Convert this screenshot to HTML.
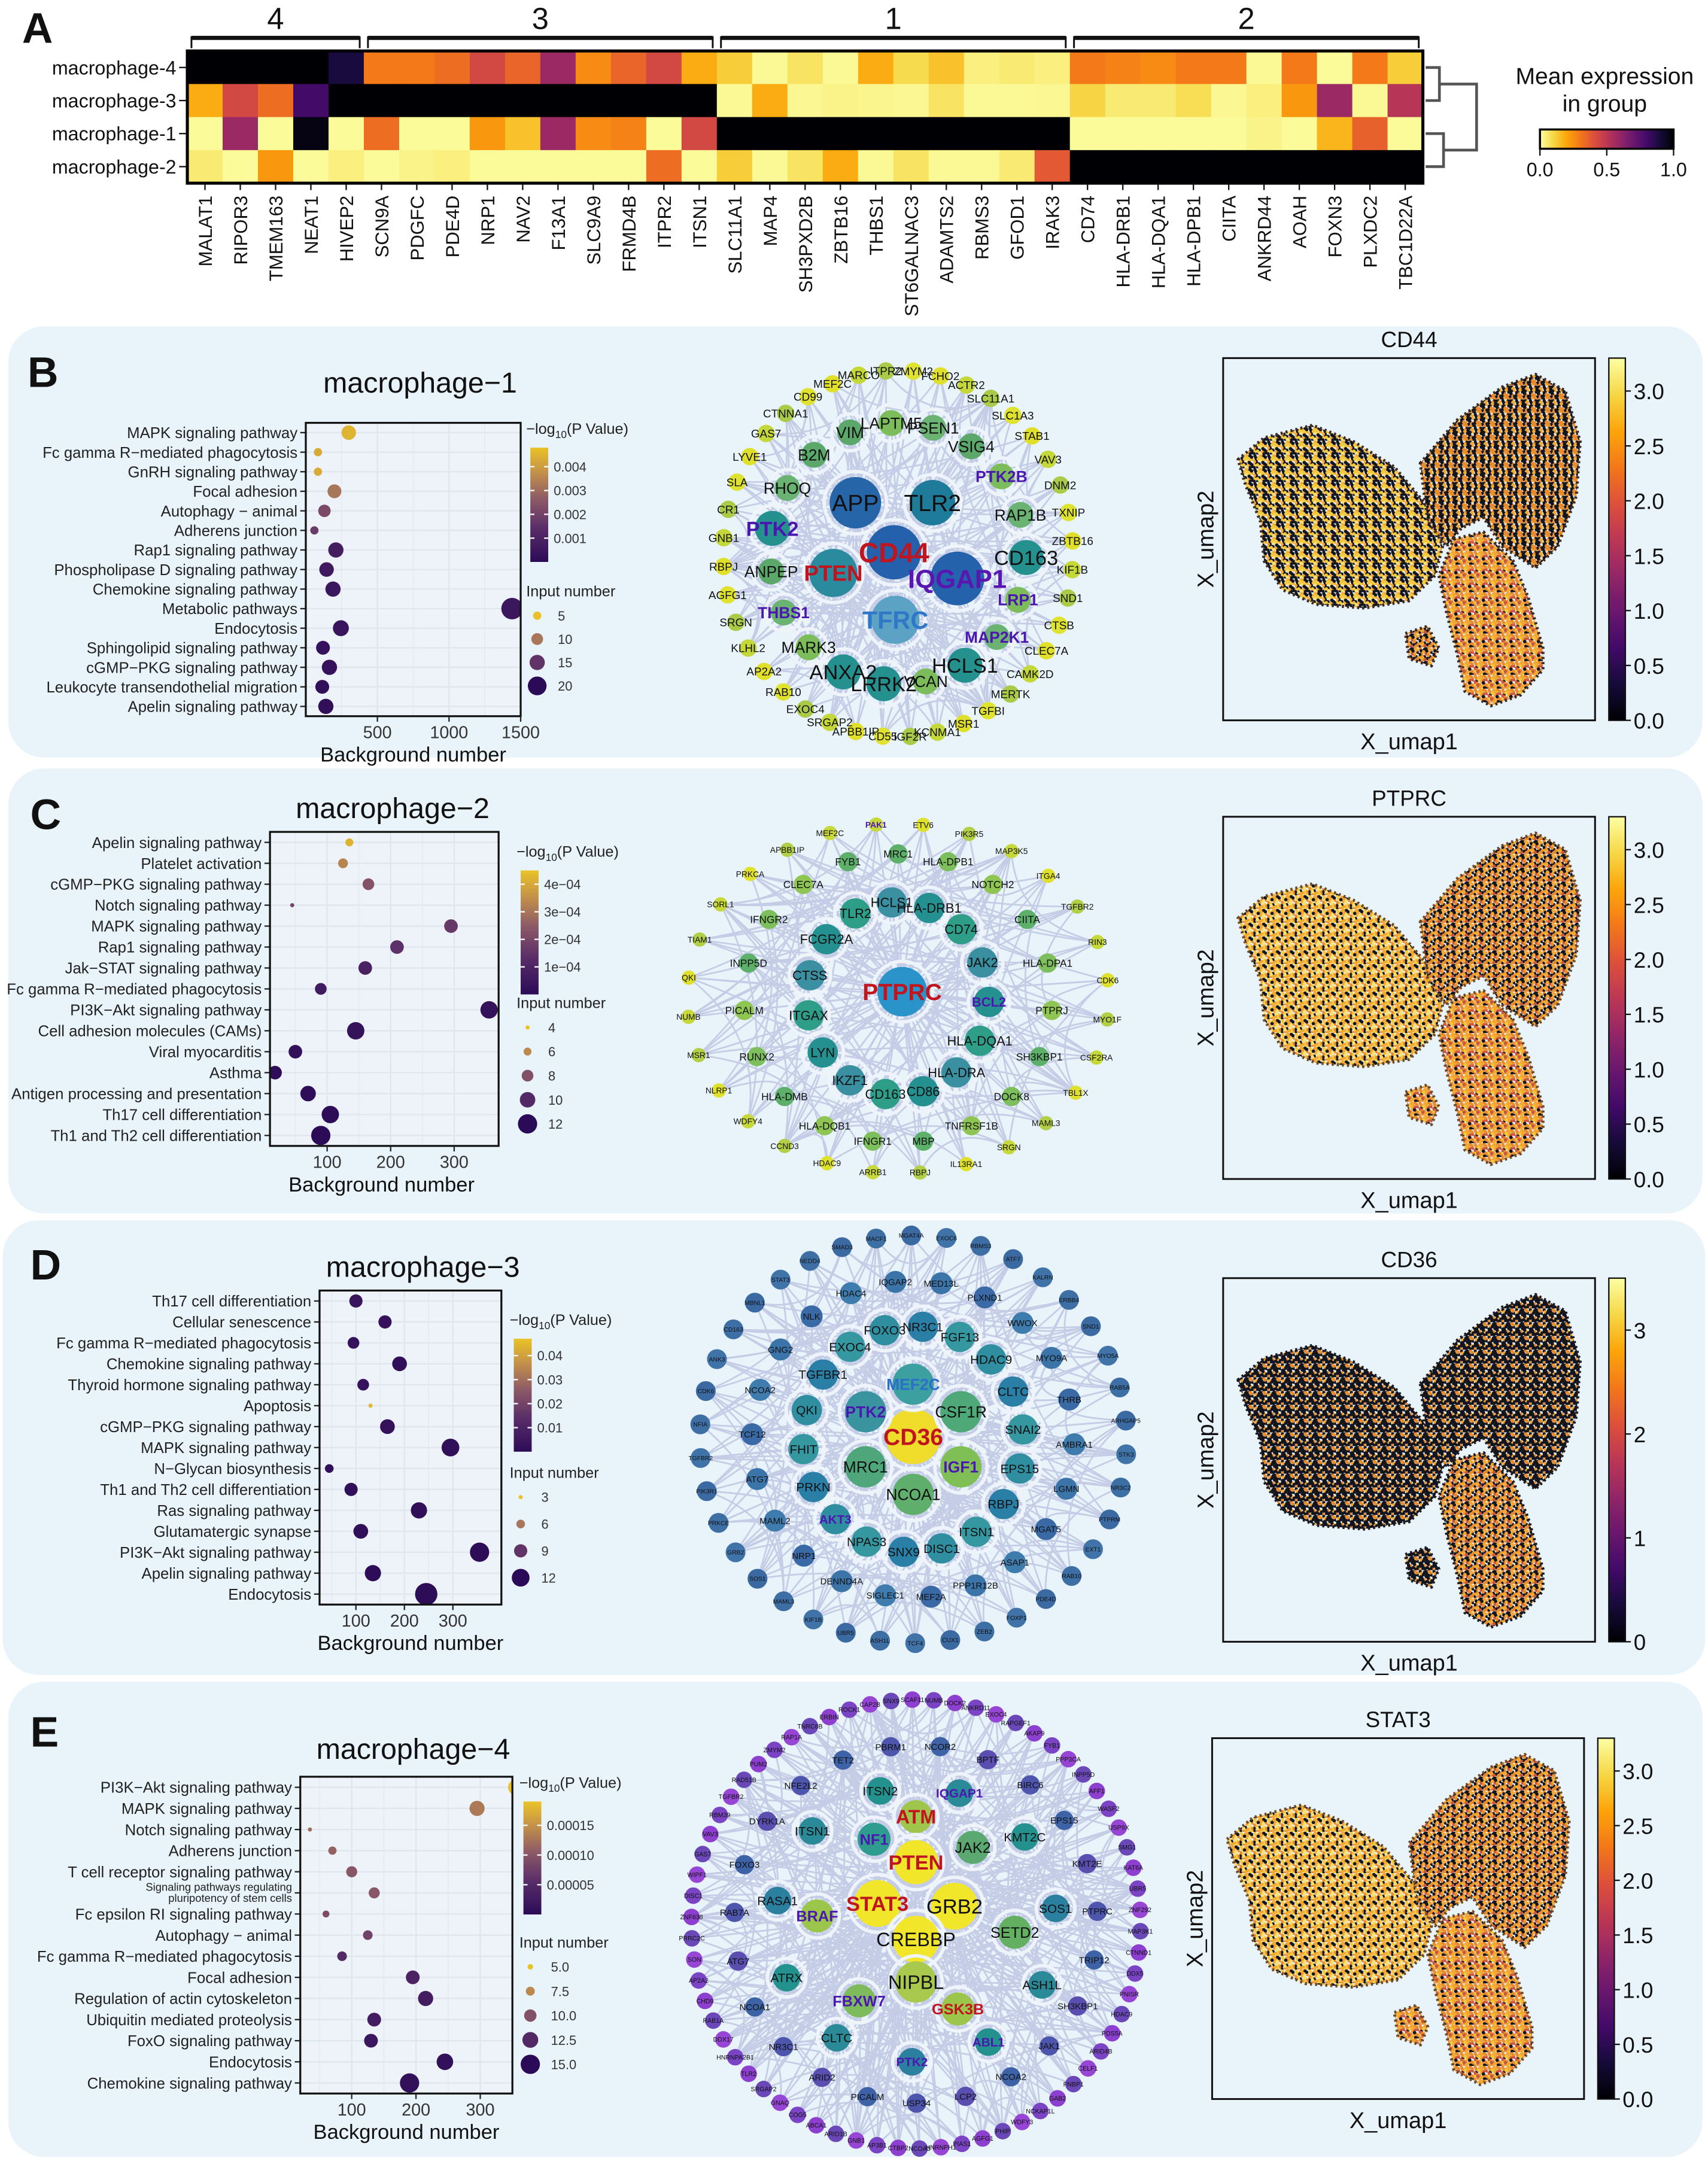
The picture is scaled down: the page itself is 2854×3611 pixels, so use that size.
<!DOCTYPE html>
<html><head><meta charset="utf-8"><style>
html,body{margin:0;padding:0;background:#fff;}
svg{display:block;font-family:"Liberation Sans",Arial,sans-serif;}
</style></head><body>
<svg id="fig" xmlns="http://www.w3.org/2000/svg" width="2854" height="3611" viewBox="0 0 1240 1569" preserveAspectRatio="none">
<defs id="defs"></defs>
<rect x="0" y="0" width="1240" height="1569" fill="#ffffff"/>
</svg>
<script>
// ---------------- DATA ----------------
const hmGenes=['MALAT1','RIPOR3','TMEM163','NEAT1','HIVEP2','SCN9A','PDGFC','PDE4D','NRP1','NAV2','F13A1','SLC9A9','FRMD4B','ITPR2','ITSN1','SLC11A1','MAP4','SH3PXD2B','ZBTB16','THBS1','ST6GALNAC3','ADAMTS2','RBMS3','GFOD1','IRAK3','CD74','HLA-DRB1','HLA-DQA1','HLA-DPB1','CIITA','ANKRD44','AOAH','FOXN3','PLXDC2','TBC1D22A'];
const hmRows=['macrophage-4','macrophage-3','macrophage-1','macrophage-2'];
const hmM4=[1,1,1,1,.92,.42,.42,.45,.55,.47,.68,.38,.47,.55,.3,.22,.05,.15,.05,.3,.18,.25,.1,.12,.1,.42,.4,.38,.42,.42,.05,.42,.04,.42,.22];
const hmM3=[.3,.55,.45,.85,1,1,1,1,1,1,1,1,1,1,1,.05,.3,.06,.08,.07,.06,.15,.05,.05,.06,.2,.12,.12,.17,.06,.1,.35,.68,.05,.62];
const hmM1=[.04,.68,.04,.98,.04,.45,.04,.04,.35,.25,.68,.38,.4,.04,.55,1,1,1,1,1,1,1,1,1,1,.04,.04,.04,.04,.04,.08,.04,.28,.48,.04];
const hmM2=[.12,.04,.35,.04,.1,.04,.08,.1,.04,.04,.04,.04,.04,.45,.04,.22,.05,.15,.3,.05,.15,.05,.05,.12,.5,1,1,1,1,1,1,1,1,1,1];
const hmGroupLabels=['4','3','1','2'];
const hmGroupSizes=[5,10,10,10];

const bTerms=['MAPK signaling pathway','Fc gamma R\u2212mediated phagocytosis','GnRH signaling pathway','Focal adhesion','Autophagy \u2212 animal','Adherens junction','Rap1 signaling pathway','Phospholipase D signaling pathway','Chemokine signaling pathway','Metabolic pathways','Endocytosis','Sphingolipid signaling pathway','cGMP\u2212PKG signaling pathway','Leukocyte transendothelial migration','Apelin signaling pathway'];
const bBg=[300,85,85,200,130,60,210,145,190,1440,245,120,165,115,140];
const bP=[0.0045,0.0043,0.0043,0.0032,0.0022,0.0018,0.0008,0.0006,0.0005,0.0005,0.0004,0.0003,0.0003,0.0002,0.0002];
const bCnt=[14,5,5,13,11,5,15,14,15,24,16,13,15,13,15];

const cTerms=['Apelin signaling pathway','Platelet activation','cGMP\u2212PKG signaling pathway','Notch signaling pathway','MAPK signaling pathway','Rap1 signaling pathway','Jak\u2212STAT signaling pathway','Fc gamma R\u2212mediated phagocytosis','PI3K\u2212Akt signaling pathway','Cell adhesion molecules (CAMs)','Viral myocarditis','Asthma','Antigen processing and presentation','Th17 cell differentiation','Th1 and Th2 cell differentiation'];
const cBg=[135,125,165,45,295,210,160,90,355,145,50,18,70,105,90];
const cP=[4.2e-4,3.3e-4,2.3e-4,1.9e-4,1.6e-4,1.4e-4,0.9e-4,0.6e-4,0.3e-4,0.3e-4,0.2e-4,0.1e-4,0.1e-4,0.05e-4,0.03e-4];
const cCnt=[6,7,8,4,9,9,9,8,11,11,9,9,10,11,12];

const dTerms=['Th17 cell differentiation','Cellular senescence','Fc gamma R\u2212mediated phagocytosis','Chemokine signaling pathway','Thyroid hormone signaling pathway','Apoptosis','cGMP\u2212PKG signaling pathway','MAPK signaling pathway','N\u2212Glycan biosynthesis','Th1 and Th2 cell differentiation','Ras signaling pathway','Glutamatergic synapse','PI3K\u2212Akt signaling pathway','Apelin signaling pathway','Endocytosis'];
const dBg=[100,160,95,190,115,130,165,295,45,90,230,110,355,135,245];
const dP=[0.004,0.003,0.003,0.002,0.003,0.045,0.003,0.002,0.002,0.002,0.002,0.002,0.001,0.001,0.0005];
const dCnt=[9,9,8,10,8,3,10,12,6,9,11,10,13,11,15];

const eTerms=['PI3K\u2212Akt signaling pathway','MAPK signaling pathway','Notch signaling pathway','Adherens junction','T cell receptor signaling pathway','Signaling pathways regulating|pluripotency of stem cells','Fc epsilon RI signaling pathway','Autophagy \u2212 animal','Fc gamma R\u2212mediated phagocytosis','Focal adhesion','Regulation of actin cytoskeleton','Ubiquitin mediated proteolysis','FoxO signaling pathway','Endocytosis','Chemokine signaling pathway'];
const eBg=[355,295,35,70,100,135,60,125,85,195,215,135,130,245,190];
const eP=[0.00019,0.00013,0.00012,0.00011,0.0001,0.0001,0.00009,0.00008,0.00005,0.00004,0.00003,0.00003,0.00002,0.00001,0.00001];
const eCnt=[12,12,4,7,9,9,6,8,8,11,12,11,11,13,15];

// ---------------- HELPERS ----------------
const NS='http://www.w3.org/2000/svg';
const svg=document.getElementById('fig');
const defs=document.getElementById('defs');
function mk(tag,attrs,parent){const e=document.createElementNS(NS,tag);for(const k in attrs)e.setAttribute(k,attrs[k]);(parent||svg).appendChild(e);return e;}
function tx(x,y,s,size,opts,parent){const e=mk('text',Object.assign({x:x,y:y,'font-size':size,fill:'#111'},opts||{}),parent);e.textContent=s;return e;}
function hex(h){return [parseInt(h.slice(1,3),16),parseInt(h.slice(3,5),16),parseInt(h.slice(5,7),16)];}
function interp(stops,t){t=Math.max(0,Math.min(1,t));for(let i=1;i<stops.length;i++){if(t<=stops[i][0]){const a=stops[i-1],b=stops[i];const f=(t-a[0])/(b[0]-a[0]);const ca=hex(a[1]),cb=hex(b[1]);return 'rgb('+ca.map((v,k)=>Math.round(v+(cb[k]-v)*f)).join(',')+')';}}return stops[stops.length-1][1];}
const INF=[[0,'#000004'],[.1,'#160b39'],[.2,'#420a68'],[.3,'#6a176e'],[.4,'#932667'],[.5,'#bc3754'],[.6,'#dd513a'],[.7,'#f37819'],[.8,'#fca50a'],[.9,'#f6d746'],[1,'#fcffa4']];
const PSTOP=[[0,'#2b0b57'],[.3,'#5a2e68'],[.55,'#8c5a67'],[.8,'#c79547'],[1,'#eac227']];
function hmColor(v){return interp(INF,1-Math.pow(v,1.4));}
function gradient(id,stops,vertical,reverse){const g=mk('linearGradient',{id:id,x1:0,y1:vertical?1:0,x2:vertical?0:1,y2:0},defs);for(let i=0;i<=20;i++){const t=i/20;mk('stop',{offset:t,'stop-color':interp(stops,reverse?1-t:t)},g);}}
gradient('gInfH',INF,false,true);
gradient('gInfV',INF,true,false);
gradient('gPV',PSTOP,true,false);

// ---------------- PANEL BACKGROUNDS ----------------
[['panel-b-background',6,237,1230,313],['panel-c-background',6,558,1230,323],['panel-d-background',2,886,1236,330],['panel-e-background',6,1221,1230,345]].forEach(p=>{
 const r=mk('rect',{x:p[1],y:p[2],width:p[3],height:p[4],rx:26,fill:'#e8f3fa'});
 
 
});
[['A',16,31],['B',20,281],['C',22,602],['D',22,929],['E',22,1268]].forEach(p=>{
 const t=tx(p[1],p[2],p[0],31,{'font-weight':'bold'});
 
 
});

// ---------------- HEATMAP ----------------
(function(){
 const x0=136,x1=1033,y0=37,rh=24,cw=(x1-x0)/hmGenes.length;
 const rowsData=[hmM4,hmM3,hmM1,hmM2];
 const g=mk('g',{});
 
 
 rowsData.forEach((row,ri)=>{
  row.forEach((v,ci)=>{
   const c=mk('rect',{x:x0+ci*cw,y:y0+ri*rh,width:cw+0.3,height:rh+0.3,fill:hmColor(v)},g);
   
   
  });
  const l=tx(128,y0+ri*rh+rh/2+5,hmRows[ri],14,{'text-anchor':'end'});
  
  
  const tk=mk('line',{x1:130,x2:135,y1:y0+ri*rh+rh/2,y2:y0+ri*rh+rh/2,stroke:'#111','stroke-width':1});
  
  
 });
 const b=mk('rect',{x:x0,y:y0,width:x1-x0,height:rh*4,fill:'none',stroke:'#000','stroke-width':2.2});
 
 
 hmGenes.forEach((gn,ci)=>{
  const cx=x0+(ci+0.5)*cw;
  const tk=mk('line',{x1:cx,x2:cx,y1:y0+rh*4,y2:y0+rh*4+5,stroke:'#111','stroke-width':1});
  
  
  const t=tx(0,0,gn,13.5,{'text-anchor':'end',transform:'translate('+(cx+5)+','+(y0+rh*4+9)+') rotate(-90)'});
  
  
 });
 let start=0;
 hmGroupSizes.forEach((n,gi)=>{
  const xs=x0+start*cw+3,xe=x0+(start+n)*cw-3;
  const br=mk('path',{d:'M'+xs+',35 V27 H'+xe+' V35',fill:'none',stroke:'#111','stroke-width':1.3});
  
  
  const bt=mk('line',{x1:xs,x2:xe,y1:27.5,y2:27.5,stroke:'#111','stroke-width':3});
  
  
  const lb=tx((xs+xe)/2,21,hmGroupLabels[gi],22,{'text-anchor':'middle'});
  
  
  start+=n;
 });
 const dd=mk('path',{d:'M1035,49 H1045 V73 H1035 M1035,97 H1048 V121 H1035 M1045,61 H1072 V109 H1048',fill:'none',stroke:'#555','stroke-width':2});
 
 
 const t1=tx(1165,61,'Mean expression',17,{'text-anchor':'middle'});
 
 
 const t2=tx(1165,81,'in group',17,{'text-anchor':'middle'});
 
 
 const cb=mk('rect',{x:1118,y:94,width:97,height:14,fill:'url(#gInfH)',stroke:'#000','stroke-width':1.5});
 
 
 [['0.0',1118],['0.5',1166.5],['1.0',1215]].forEach(p=>{
  const l=mk('line',{x1:p[1],x2:p[1],y1:108,y2:113,stroke:'#111'});
  
  
  const t=tx(p[1],128,p[0],14,{'text-anchor':'middle'});
  
  
 });
})();

// ---------------- DOT PLOTS ----------------
function dotPlot(c,terms,bg,pv,cnt){
 const g=mk('g',{});
 
 
 const xs=v=>c.left+(v-c.xmin)/(c.xmax-c.xmin)*(c.right-c.left);
 const step=(c.bottom-c.top)/terms.length;
 const ys=i=>c.top+(i+0.5)*step;
 const rs=n=>Math.max(1,c.rlo+(n-c.clo)/(c.chi-c.clo)*(c.rhi-c.rlo));
 const cs=p=>interp(PSTOP,(p-c.pmin)/(c.pmax-c.pmin));
 const pb=mk('rect',{x:c.left,y:c.top,width:c.right-c.left,height:c.bottom-c.top,fill:'#edf3f8'},g);
 
 
 const cp=mk('clipPath',{id:'clip-'+c.name},defs);
 mk('rect',{x:c.left,y:c.top,width:c.right-c.left,height:c.bottom-c.top},cp);
 c.xticks.forEach((v,k)=>{
  const gl=mk('line',{x1:xs(v),x2:xs(v),y1:c.top,y2:c.bottom,stroke:'#dfe6ee','stroke-width':1},g);
  
  
  const half=v-(c.xticks[1]-c.xticks[0])/2;
  if(half>c.xmin){const gm=mk('line',{x1:xs(half),x2:xs(half),y1:c.top,y2:c.bottom,stroke:'#e4eaf1','stroke-width':.7},g);
  
  }
 });
 terms.forEach((t,i)=>{
  const gl=mk('line',{x1:c.left,x2:c.right,y1:ys(i),y2:ys(i),stroke:'#dfe6ee','stroke-width':1},g);
  
  
 });
 const dg=mk('g',{'clip-path':'url(#clip-'+c.name+')'},g);
 terms.forEach((t,i)=>{
  const d=mk('circle',{cx:xs(bg[i]),cy:ys(i),r:rs(cnt[i]),fill:cs(pv[i])},dg);
  
  
  const tk=mk('line',{x1:c.left-4,x2:c.left,y1:ys(i),y2:ys(i),stroke:'#222'},g);
  
  
  const parts=t.split('|');
  if(parts.length>1){
   const a=tx(c.left-6,ys(i)-1.5,parts[0],8,{'text-anchor':'end',fill:'#222'},g);
   
   
   const b=tx(c.left-6,ys(i)+6.5,parts[1],8,{'text-anchor':'end',fill:'#222'},g);
   
   
  } else {
   const a=tx(c.left-6,ys(i)+4,t,c.fs,{'text-anchor':'end',fill:'#222'},g);
   
   
  }
 });
 const bx=mk('rect',{x:c.left,y:c.top,width:c.right-c.left,height:c.bottom-c.top,fill:'none',stroke:'#111','stroke-width':1.4},g);
 
 
 c.xticks.forEach(v=>{
  const tk=mk('line',{x1:xs(v),x2:xs(v),y1:c.bottom,y2:c.bottom+4,stroke:'#222'},g);
  
  
  const tl=tx(xs(v),c.bottom+16,String(v),12.5,{'text-anchor':'middle',fill:'#333'},g);
  
  
 });
 const xl=tx((c.left+c.right)/2+c.xlOff,c.bottom+33,'Background number',15,{'text-anchor':'middle'},g);
 
 
 const ti=tx(c.titleX,c.titleY,c.title,21,{'text-anchor':'middle'},g);
 
 
 const lt=mk('text',{x:c.cbx-3,y:c.cby0-10,'font-size':11,fill:'#222'},g);
 
 
 lt.textContent='\u2212log';
 const sub=mk('tspan',{'font-size':7.5,dy:3},lt);sub.textContent='10';
 const rest=mk('tspan',{dy:-3},lt);rest.textContent='(P Value)';
 const cbr=mk('rect',{x:c.cbx,y:c.cby0,width:13,height:c.cby1-c.cby0,fill:'url(#gPV)'},g);
 
 
 const cy=v=>c.cby1-(v-c.pmin)/(c.pmax-c.pmin)*(c.cby1-c.cby0);
 c.cticks.forEach((v,k)=>{
  const l=mk('line',{x1:c.cbx,x2:c.cbx+3,y1:cy(v),y2:cy(v),stroke:'#fff'},g);
  
  
  const l2=mk('line',{x1:c.cbx+10,x2:c.cbx+13,y1:cy(v),y2:cy(v),stroke:'#fff'},g);
  
  
  const t=tx(c.cbx+17,cy(v)+3.5,c.ctickLabels[k],9.5,{fill:'#333'},g);
  
  
 });
 const st=tx(c.cbx-3,c.sy-4,'Input number',11,{fill:'#222'},g);
 
 
 c.sizes.forEach((n,k)=>{
  const yy=c.sy+10+k*c.sstep;
  const d=mk('circle',{cx:c.cbx+5,cy:yy,r:rs(n),fill:interp(PSTOP,1-k/(c.sizes.length-1))},g);
  
  
  const t=tx(c.cbx+20,yy+3.5,c.sizeLabels[k],9.5,{fill:'#333'},g);
  
  
 });
}
dotPlot({name:'macrophage-1',left:222,right:378,top:307,bottom:520,xmin:0,xmax:1500,xticks:[500,1000,1500],fs:11.2,xlOff:0,title:'macrophage\u22121',titleX:305,titleY:285,
 pmin:0,pmax:0.0048,cbx:385,cby0:325,cby1:408,cticks:[0.001,0.002,0.003,0.004],ctickLabels:['0.001','0.002','0.003','0.004'],
 rlo:3,rhi:6.8,clo:5,chi:20,sy:437,sstep:17,sizes:[5,10,15,20],sizeLabels:['5','10','15','20']},bTerms,bBg,bP,bCnt);
dotPlot({name:'macrophage-2',left:196,right:362,top:604,bottom:832,xmin:10,xmax:370,xticks:[100,200,300],fs:11.2,xlOff:-2,title:'macrophage\u22122',titleX:285,titleY:594,
 pmin:0,pmax:4.5e-4,cbx:378,cby0:632,cby1:722,cticks:[1e-4,2e-4,3e-4,4e-4],ctickLabels:['1e\u221204','2e\u221204','3e\u221204','4e\u221204'],
 rlo:1.5,rhi:7,clo:4,chi:12,sy:736,sstep:17.5,sizes:[4,6,8,10,12],sizeLabels:['4','6','8','10','12']},cTerms,cBg,cP,cCnt);
dotPlot({name:'macrophage-3',left:232,right:364,top:937,bottom:1165,xmin:25,xmax:400,xticks:[100,200,300],fs:11.2,xlOff:0,title:'macrophage\u22123',titleX:307,titleY:927,
 pmin:0,pmax:0.047,cbx:373,cby0:972,cby1:1054,cticks:[0.01,0.02,0.03,0.04],ctickLabels:['0.01','0.02','0.03','0.04'],
 rlo:1.5,rhi:7,clo:3,chi:13,sy:1077,sstep:19.5,sizes:[3,6,9,12],sizeLabels:['3','6','9','12']},dTerms,dBg,dP,dCnt);
dotPlot({name:'macrophage-4',left:218,right:372,top:1290,bottom:1520,xmin:20,xmax:350,xticks:[100,200,300],fs:11.2,xlOff:0,title:'macrophage\u22124',titleX:300,titleY:1277,
 pmin:0,pmax:0.00019,cbx:380,cby0:1308,cby1:1390,cticks:[0.00005,0.0001,0.00015],ctickLabels:['0.00005','0.00010','0.00015'],
 rlo:1.5,rhi:7,clo:4,chi:15,sy:1418,sstep:17.7,sizes:[5,7.5,10,12.5,15],sizeLabels:['5.0','7.5','10.0','12.5','15.0']},eTerms,eBg,eP,eCnt);

// ---------------- NETWORKS ----------------
function network(c){
 const g=mk('g',{});
 
 
 const nodes=[];
 c.hubs.forEach(h=>nodes.push({x:c.cx+h[1],y:c.cy+h[2],r:h[3],fill:h[4],lc:h[5]||'#111',fs:h[6]||16,label:h[0],hub:true}));
 c.rings.forEach(rg=>{
  const n=rg.labels.length;
  rg.labels.forEach((lab,i)=>{
   const a=(rg.start+i*360/n)*Math.PI/180;
   const big=(rg.big||[]).indexOf(lab)>=0;
   nodes.push({x:c.cx+rg.rx*Math.cos(a),y:c.cy+rg.ry*Math.sin(a),r:big?rg.r*1.35:rg.r,fill:big?(rg.bigColor||rg.colors[0]):rg.colors[i%rg.colors.length],lc:(rg.lc&&rg.lc[lab])||'#111',fs:big?rg.fs*1.3:rg.fs,label:lab});
  });
 });
 const N=nodes.length,H=c.hubs.length;
 const eg=mk('g',{fill:'none',stroke:'#c2c9e4','stroke-width':1.2,opacity:.9},g);
 
 
 for(let i=0;i<N;i++){
  const links=[(i*7+3)%N,(i*13+5)%N,i%H,(i+N/3|0)%N];
  links.forEach(j=>{
   if(j===i)return;
   const a=nodes[i],b=nodes[j];
   const mx=(a.x+b.x)/2,my=(a.y+b.y)/2;
   const qx=mx+(c.cx-mx)*.25,qy=my+(c.cy-my)*.25;
   const p=mk('path',{d:'M'+a.x.toFixed(1)+','+a.y.toFixed(1)+' Q'+qx.toFixed(1)+','+qy.toFixed(1)+' '+b.x.toFixed(1)+','+b.y.toFixed(1)},eg);
   
   
  });
 }
 nodes.forEach(n=>{
  if(n.hub||n.r>9){const h=mk('circle',{cx:n.x,cy:n.y,r:n.r+4,fill:'none',stroke:'#eef4fa','stroke-width':2.5},g);
  
  }
  const ci=mk('circle',{cx:n.x,cy:n.y,r:n.r,fill:n.fill},g);
  
  
 });
 nodes.forEach(n=>{
  const t=tx(n.x,n.y+n.fs*0.36,n.label,n.fs,{'text-anchor':'middle',fill:n.lc,'font-weight':(n.lc!=='#111')?'bold':'normal'},g);
  
  
 });
}
network({name:'macrophage-1',cx:652,cy:402,
 hubs:[['APP',-31,-37,18.7,'#2565a8','#111',17],['TLR2',25,-37,16.5,'#1f7b9a','#111',17],['CD44',-3,-1,19.7,'#2460ac','#c0141e',20],['PTEN',-47,14,17.5,'#2a8a9e','#c0141e',16],['IQGAP1',43,18,19.5,'#2462ac','#5a16b0',19],['TFRC',-2,48,17.5,'#5ba2c4','#2f78c8',18]],
 rings:[
  {labels:['VIM','LAPTM5','PSEN1','VSIG4','PTK2B','RAP1B','CD163','LRP1','MAP2K1','HCLS1','VCAN','LRRK2','ANXA2','MARK3','THBS1','ANPEP','PTK2','RHOQ','B2M'],rx:93,ry:95,start:-112,r:9.4,fs:11.5,colors:['#5ba86a','#7cbc5a','#6bb372'],big:['CD163','HCLS1','ANXA2','PTK2','LRRK2'],bigColor:'#25918f',lc:{'PTK2B':'#4b17b0','LRP1':'#4b17b0','MAP2K1':'#4b17b0','THBS1':'#4b17b0','PTK2':'#4b17b0'}},
  {labels:['MEF2C','MARCO','ITPR2','ZMYM2','FCHO2','ACTR2','SLC11A1','SLC1A3','STAB1','VAV3','DNM2','TXNIP','ZBTB16','KIF1B','SND1','CTSB','CLEC7A','CAMK2D','MERTK','TGFBI','MSR1','KCNMA1','IGF2R','CD55','APBB1IP','SRGAP2','EXOC4','RAB10','AP2A2','KLHL2','SRGN','AGFG1','RBPJ','GNB1','CR1','SLA','LYVE1','GAS7','CTNNA1','CD99'],rx:127,ry:133,start:-112,r:6.3,fs:8.2,colors:['#e0e02a','#c5d83a','#a9cb48','#dfe330']}
 ]});
network({name:'macrophage-2',cx:652,cy:725,
 hubs:[['PTPRC',3,-5,18,'#2a93c9','#c0141e',17]],
 rings:[
  {labels:['HLA-DRB1','CD74','JAK2','BCL2','HLA-DQA1','HLA-DRA','CD86','CD163','IKZF1','LYN','ITGAX','CTSS','FCGR2A','TLR2','HCLS1'],rx:66,ry:70,start:-70,r:11,fs:9.5,colors:['#24908f','#2e9e88','#3a8fa0'],lc:{'BCL2':'#4b17b0'}},
  {labels:['MRC1','HLA-DPB1','NOTCH2','CIITA','HLA-DPA1','PTPRJ','SH3KBP1','DOCK8','TNFRSF1B','MBP','IFNGR1','HLA-DQB1','HLA-DMB','RUNX2','PICALM','INPP5D','IFNGR2','CLEC7A','FYB1'],rx:112,ry:105,start:-90,r:7,fs:7.5,colors:['#5cb06a','#7dbf5c','#8fc653']},
  {labels:['PAK1','ETV6','PIK3R5','MAP3K5','ITGA4','TGFBR2','RIN3','CDK6','MYO1F','CSF2RA','TBL1X','MAML3','SRGN','IL13RA1','RBPJ','ARRB1','HDAC9','CCND3','WDFY4','NLRP1','MSR1','NUMB','QKI','TIAM1','SORL1','PRKCA','APBB1IP','MEF2C'],rx:153,ry:127,start:-96,r:5.2,fs:6,colors:['#c7d93a','#dfe12d','#b3cf45'],lc:{'PAK1':'#4b17b0'}}
 ]});
network({name:'macrophage-3',cx:663,cy:1045,
 hubs:[['CD36',0,-2,20,'#f0dc2a','#c0141e',17]],
 rings:[
  {labels:['MEF2C','CSF1R','IGF1','NCOA1','MRC1','PTK2'],rx:40,ry:40,start:-90,r:15,fs:11.5,colors:['#3c9fa0','#4fa878','#7fbf55','#5fae6c','#4ea67a','#3a94a0'],lc:{'MEF2C':'#2a70c8','IGF1':'#4b17b0','PTK2':'#4b17b0'}},
  {labels:['FOXO3','NR3C1','FGF13','HDAC9','CLTC','SNAI2','EPS15','RBPJ','ITSN1','DISC1','SNX9','NPAS3','AKT3','PRKN','FHIT','QKI','TGFBR1','EXOC4'],rx:80,ry:82,start:-105,r:11,fs:9,colors:['#2f8ea0','#2a7fa6','#3597a0'],lc:{'AKT3':'#4b17b0'}},
  {labels:['MED13L','PLXND1','WWOX','MYO9A','THRB','AMBRA1','LGMN','MGAT5','ASAP1','PPP1R12B','MEF2A','SIGLEC1','DENND4A','NRP1','MAML2','ATG7','TCF12','NCOA2','GNG2','NLK','HDAC4','IQGAP2'],rx:117,ry:115,start:-80,r:8,fs:6.5,colors:['#3b74a8','#3a6aa6','#3f7cae']},
  {labels:['MACF1','MGAT4A','EXOC6','RBMS3','ATF7','KALRN','ERBB4','SND1','MYO5A','RAB5A','ARHGAP5','STK3','NR3C2','PTPRM','EXT1','RAB10','PDE4D','FOXP1','ZEB2','CUX1','TCF4','ASH1L','UBR5','KIF1B','MAML3','SOS1','GRB2','PRKCE','PIK3R1','TGFBR2','NFIA','CDK6','ANK3','CD163','MBNL1','STAT3','NEDD4','SMAD3'],rx:155,ry:148,start:-100,r:7.2,fs:4.5,colors:['#3d6ea4','#3b6aa2','#4073a8']}
 ]});
network({name:'macrophage-4',cx:665,cy:1397,
 hubs:[['ATM',0,-78,12,'#9fc54a','#c0141e',14],['PTEN',0,-45,16,'#f2e62a','#c0141e',15],['STAT3',-28,-15,17,'#f2e62a','#c0141e',15],['GRB2',28,-13,17,'#f2e62a','#111',15],['CREBBP',0,11,17,'#f2e62a','#111',14],['NIPBL',0,42,15,'#a8c94e','#111',14]],
 rings:[
  {labels:['JAK2','SETD2','GSK3B','FBXW7','BRAF','NF1'],rx:72,ry:68,start:-55,r:12,fs:11,colors:['#5ba870','#63b062','#9cc54c','#7dbb5c','#9cc54c','#2f9c90'],lc:{'GSK3B':'#c0141e','FBXW7':'#4b17b0','BRAF':'#4b17b0','NF1':'#4b17b0'}},
  {labels:['IQGAP1','KMT2C','SOS1','ASH1L','ABL1','PTK2','CLTC','ATRX','RASA1','ITSN1','ITSN2'],rx:102,ry:100,start:-72,r:10,fs:9,colors:['#2a8a98','#23918e','#2b7f9f'],lc:{'IQGAP1':'#4b17b0','ABL1':'#4b17b0','PTK2':'#4b17b0'}},
  {labels:['PBRM1','NCOR2','BPTF','BIRC6','EPS15','KMT2E','PTPRC','TRIP12','SH3KBP1','JAK1','NCOA2','LCP2','USP34','PICALM','ARID2','NR3C1','NCOA1','ATG7','RAB7A','FOXO3','DYRK1A','NFE2L2','TET2'],rx:132,ry:130,start:-98,r:7,fs:6.5,colors:['#4d55ad','#3e62a6','#5a4fb0']},
  {labels:['DOCK2','ANKRD11','EXOC4','RAPGEF1','AKAP9','FYB1','PPP3CA','INPP5D','AFF1','WASF2','USP9X','SMG1','KAT6A','UBR5','ZNF292','MAP3K1','CTNND1','DDX5','PNISR','HDAC9','PDS5A','ARID4B','CELF1','FNBP1','GAB2','NCKAP1L','WDFY3','PHIP','AGFG1','PIAS1','HNRNPH1','NCOA3','CTBP2','AP3B1','GNB1','ARID1B','ABCA1','COG5','GNAQ','SRGAP2','TLR2','HNRNPA2B1','DDX17','RAB1A','CHD9','AP2A2','SON','PRRC2C','ZNF638','DISC1','WIPF1','GAS7','VAV3','RBM39','TGFBR2','RAD51B','PUM2','ZMYM2','RAP1A','TNRC6B','ERBIN','ROCK1','CAP2B','SNX9','SCAF11','NUMB'],rx:163,ry:163,start:-80,r:6,fs:4.6,colors:['#8d3fcf','#7a44c4','#9645d4','#6a48b8']}
 ]});

// ---------------- UMAPS ----------------
const umapL=[[.04,.28],[.11,.22],[.24,.185],[.35,.23],[.46,.30],[.55,.41],[.59,.52],[.57,.60],[.50,.67],[.38,.69],[.25,.68],[.16,.64],[.11,.56],[.10,.45],[.06,.35]];
const umapR=[[.53,.29],[.63,.17],[.75,.08],[.84,.045],[.92,.09],[.96,.23],[.95,.38],[.90,.52],[.84,.58],[.75,.52],[.70,.44],[.64,.47],[.60,.52],[.55,.45]];
const umapB=[[.62,.50],[.70,.48],[.78,.56],[.82,.66],[.86,.80],[.86,.86],[.80,.93],[.72,.96],[.65,.92],[.63,.82],[.60,.70],[.58,.60]];
const umapS=[[.49,.76],[.55,.74],[.58,.80],[.56,.85],[.50,.83]];
const tilePts=[[1,1],[4.2,1.6],[7.3,.8],[9.4,3.6],[2.2,4],[5.4,4.6],[8.1,6.8],[.9,7.2],[3.1,9.1],[6.2,8.2],[9.2,9.3],[4.1,6.9],[7.2,3.9],[2.4,6.1],[5.8,2.6],[8.6,1.9],[.7,5.2],[6.9,5.8],[4.6,8.9],[1.8,2.5],[3.5,3.2],[9.6,7.8],[5.3,.4],[7.8,9.4],[.5,9.5],[2.9,7.6]];
const DK='#14141c',YL='#f4c83e',OR='#e98b2a',AM='#f5a830',RD='#c8553f',PY='#f7e27a';
function pattern(id,cols){
 const p=mk('pattern',{id:id,width:10,height:10,patternUnits:'userSpaceOnUse'},defs);
 mk('rect',{x:0,y:0,width:10,height:10,fill:'#e8f3fa'},p);
 tilePts.forEach((pt,k)=>{mk('circle',{cx:pt[0],cy:pt[1],r:1.25,fill:cols[k%cols.length]},p);});
}
pattern('pDarkYel',[DK,YL,DK,AM,DK,PY,DK,YL,DK,AM,DK,DK,YL]);
pattern('pDarkOr',[DK,OR,DK,AM,DK,DK,OR,DK,AM,DK,DK,OR]);
pattern('pOrange',[OR,AM,OR,RD,DK,AM,OR,YL,OR,AM,DK,OR,RD]);
pattern('pYelOr',[YL,AM,DK,OR,PY,AM,YL,DK,OR,AM,YL,DK,PY]);
pattern('pDark',[DK,DK,OR,DK,DK,DK,AM,DK,DK,DK,DK,OR,DK]);
pattern('pOrDark',[OR,DK,AM,DK,OR,RD,DK,AM,OR,DK,OR,DK,AM]);
function umap(c){
 const g=mk('g',{});
 
 
 const W=c.x1-c.x0,Hh=c.y1-c.y0;
 [[umapL,c.fills[0],'left-cluster'],[umapR,c.fills[1],'right-cluster'],[umapB,c.fills[2],'lower-cluster'],[umapS,c.fills[3],'small-cluster']].forEach(s=>{
  const d='M'+s[0].map(p=>(c.x0+p[0]*W).toFixed(1)+','+(c.y0+p[1]*Hh).toFixed(1)).join(' L')+' Z';
  const p=mk('path',{d:d,fill:'url(#'+s[1]+')','stroke':c.edge,'stroke-width':2.2,'stroke-dasharray':'1.5 2.2','stroke-linejoin':'round'},g);
  
  
 });
 const bx=mk('rect',{x:c.x0,y:c.y0,width:W,height:Hh,fill:'none',stroke:'#111','stroke-width':1.3},g);
 
 
 const cb=mk('rect',{x:c.x1+10,y:c.y0,width:12,height:Hh,fill:'url(#gInfV)',stroke:'#111','stroke-width':1},g);
 
 
 c.ticks.forEach(v=>{
  const y=c.y1-v/c.vmax*Hh;
  const l=mk('line',{x1:c.x1+22,x2:c.x1+26,y1:y,y2:y,stroke:'#111'},g);
  
  
  const t=tx(c.x1+28,y+6,c.tickFmt(v),16,{},g);
  
  
 });
 const ti=tx((c.x0+c.x1)/2,c.y0-8,c.gene,16,{'text-anchor':'middle'},g);
 
 
 const xl=tx((c.x0+c.x1)/2,c.y1+21,'X_umap1',16.5,{'text-anchor':'middle'},g);
 
 
 const yl=tx(0,0,'X_umap2',16.5,{'text-anchor':'middle',transform:'translate('+(c.x0-7)+','+((c.y0+c.y1)/2)+') rotate(-90)'},g);
 
 
}
const f1=v=>v.toFixed(1), f0=v=>v.toFixed(0);
umap({gene:'CD44',x0:888,x1:1158,y0:260,y1:523,vmax:3.3,ticks:[0,.5,1,1.5,2,2.5,3],tickFmt:f1,edge:'#3a2a26',fills:['pDarkYel','pDarkOr','pOrange','pOrDark']});
umap({gene:'PTPRC',x0:888,x1:1158,y0:593,y1:856,vmax:3.3,ticks:[0,.5,1,1.5,2,2.5,3],tickFmt:f1,edge:'#6a4a2a',fills:['pYelOr','pOrDark','pOrange','pOrange']});
umap({gene:'CD36',x0:888,x1:1158,y0:928,y1:1192,vmax:3.5,ticks:[0,1,2,3],tickFmt:f0,edge:'#1a1a20',fills:['pDark','pDark','pOrDark','pDark']});
umap({gene:'STAT3',x0:880,x1:1150,y0:1262,y1:1524,vmax:3.3,ticks:[0,.5,1,1.5,2,2.5,3],tickFmt:f1,edge:'#6a4a2a',fills:['pYelOr','pOrDark','pOrange','pOrange']});
</script>
</body></html>
